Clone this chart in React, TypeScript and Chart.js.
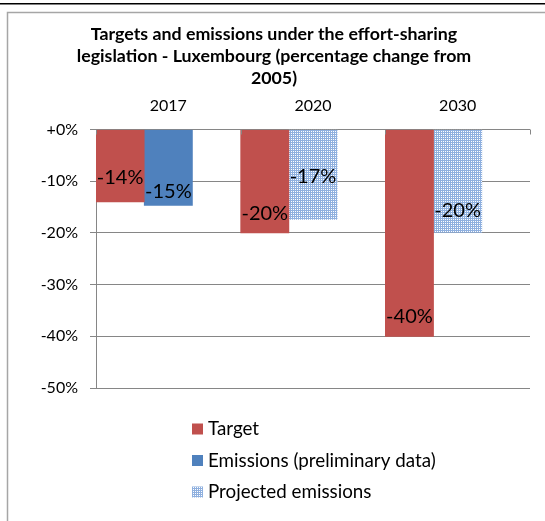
import React, { useEffect, useRef } from "react";
import { Chart, registerables } from "chart.js";

Chart.register(...registerables);

const titleLines = [
  "Targets and emissions under the effort-sharing",
  "legislation - Luxembourg (percentage change from",
  "2005)",
];
const categories = ["2017", "2020", "2030"];
const targetValues = [-14, -20, -40];
const emissionsValues: (number | null)[] = [-14.7, null, null];
const projectedValues: (number | null)[] = [null, -17.4, -19.9];
const legendLabels = ["Target", "Emissions (preliminary data)", "Projected emissions"];
const yMin = -50;
const yMax = 0;
const yStep = 10;

const RED = "#C0504D";
const BLUE = "#4F81BD";
const FONT = "Lato, 'Open Sans', sans-serif";
// style: label lift above bar end (px), per dataset per category
const labelLift = [
  [24, 19, 20],
  [14, 43, 22],
];

function makePattern(): CanvasPattern | string {
  const c = document.createElement("canvas");
  c.width = 2;
  c.height = 2;
  const g = c.getContext("2d");
  if (!g) return "#afc6e8";
  g.fillStyle = "#8fb0df";
  g.fillRect(0, 0, 2, 2);
  g.fillStyle = "#ffffff";
  g.fillRect(1, 1, 1, 1);
  const p = g.createPattern(c, "repeat");
  return p || "#afc6e8";
}

export default function App() {
  const ref = useRef<HTMLCanvasElement | null>(null);

  useEffect(() => {
    document.body.style.margin = "0";
    const canvas = ref.current;
    if (!canvas) return;
    const pattern = makePattern();
    const secondData = emissionsValues.map((v, i) => (v != null ? v : projectedValues[i]));
    const secondColors = emissionsValues.map((v) => (v != null ? BLUE : pattern));

    const deco = {
      id: "deco",
      beforeDraw(chart: any) {
        const ctx = chart.ctx;
        ctx.save();
        ctx.fillStyle = "#fff";
        ctx.fillRect(0, 0, chart.width, chart.height);
        ctx.fillStyle = "#000";
        ctx.fillRect(0, 3, chart.width, 1.5);
        ctx.strokeStyle = "#a6a6a6";
        ctx.lineWidth = 1.5;
        ctx.beginPath();
        ctx.moveTo(7.5, chart.height);
        ctx.lineTo(7.5, 12.5);
        ctx.lineTo(chart.width, 12.5);
        ctx.stroke();
        ctx.restore();
      },
      afterDraw(chart: any) {
        const ctx = chart.ctx;
        const area = chart.chartArea;
        const xs = chart.scales.x;
        ctx.save();
        // title
        ctx.fillStyle = "#000";
        ctx.textAlign = "center";
        ctx.textBaseline = "alphabetic";
        ctx.font = `bold 17.8px ${FONT}`;
        titleLines.forEach((t, i) => ctx.fillText(t, 274, 39.5 + i * 22));
        // category labels
        ctx.font = `16px ${FONT}`;
        ctx.textBaseline = "middle";
        categories.forEach((c, i) => ctx.fillText(c, xs.getPixelForValue(i), area.top - 24));
        // small ticks at category boundaries
        const centers = categories.map((_, i) => xs.getPixelForValue(i));
        const bounds = [area.left];
        for (let i = 1; i < centers.length; i++) bounds.push((centers[i - 1] + centers[i]) / 2);
        bounds.push(area.right);
        ctx.strokeStyle = "#868686";
        ctx.lineWidth = 1;
        bounds.forEach((b) => {
          const x = Math.round(b) + 0.5;
          ctx.beginPath();
          ctx.moveTo(x, area.top);
          ctx.lineTo(x, area.top + 5);
          ctx.stroke();
        });
        // data labels
        ctx.font = `20px ${FONT}`;
        ctx.fillStyle = "#000";
        [0, 1].forEach((di) => {
          const meta = chart.getDatasetMeta(di);
          meta.data.forEach((bar: any, i: number) => {
            const v = chart.data.datasets[di].data[i];
            if (v == null) return;
            ctx.fillText(`${Math.round(v)}%`, bar.x, bar.y - labelLift[di][i]);
          });
        });
        // legend
        const colors = [RED, BLUE, pattern];
        ctx.textAlign = "left";
        ctx.font = `18.8px ${FONT}`;
        legendLabels.forEach((l, i) => {
          const cy = 429 + i * 31.5;
          ctx.fillStyle = colors[i] as any;
          ctx.fillRect(192, cy - 5.5, 11, 11);
          ctx.fillStyle = "#000";
          ctx.fillText(l, 208, cy);
        });
        ctx.restore();
      },
    };

    const chart = new Chart(canvas, {
      type: "bar",
      data: {
        labels: categories,
        datasets: [
          { label: legendLabels[0], data: targetValues, backgroundColor: RED, borderWidth: 0 },
          { label: legendLabels[1], data: secondData as any, backgroundColor: secondColors as any, borderWidth: 0 },
          { label: legendLabels[2], data: [null, null, null] as any, backgroundColor: pattern as any, borderWidth: 0 },
        ],
      },
      options: {
        animation: false,
        responsive: false,
        maintainAspectRatio: false,
        devicePixelRatio: 1,
        layout: { padding: { left: 8, top: 129.5, right: 15, bottom: 133 } },
        datasets: { bar: { categoryPercentage: 1, barPercentage: 1 } } as any,
        plugins: { legend: { display: false }, tooltip: { enabled: false }, title: { display: false } },
        scales: {
          x: { display: false, offset: true },
          y: {
            min: yMin,
            max: yMax,
            afterFit: (s: any) => {
              s.width = 88;
            },
            ticks: {
              stepSize: yStep,
              color: "#000",
              padding: 12,
              font: { family: FONT, size: 16 },
              callback: (v: any) => (Number(v) === 0 ? "+0%" : `${v}%`),
            },
            grid: { color: "#868686", tickLength: 6, drawTicks: true },
            border: { color: "#868686" },
          },
        },
      },
      plugins: [deco],
    });
    return () => chart.destroy();
  }, []);

  return (
    <div style={{ position: "relative", width: 545, height: 521 }}>
      <canvas ref={ref} width={545} height={521} style={{ display: "block", width: 545, height: 521 }} />
    </div>
  );
}
